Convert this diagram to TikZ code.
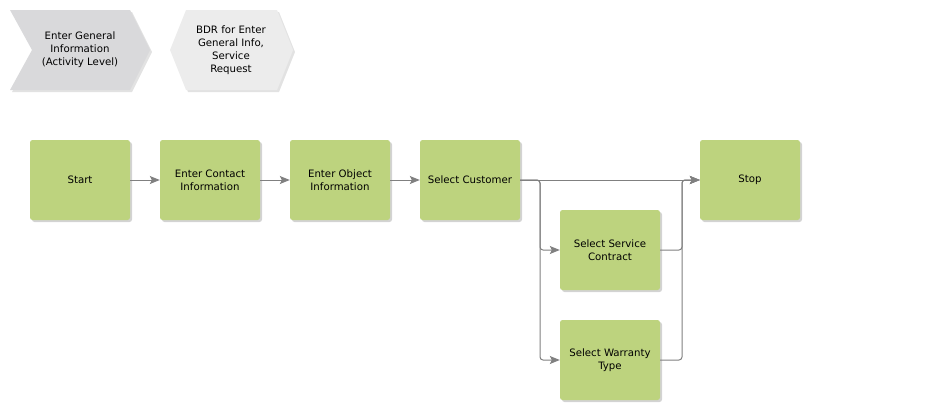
\documentclass[tikz,border=0pt]{standalone}
\usepackage{fontspec}
\setmainfont{DejaVu Sans}
\usetikzlibrary{arrows.meta,shadows}
\definecolor{actgreen}{RGB}{189,211,126}
\definecolor{evgray}{RGB}{217,217,219}
\definecolor{rulegray}{RGB}{236,236,236}
\definecolor{linegray}{RGB}{128,128,128}
\tikzset{
  act/.style={draw=none,fill=actgreen,rounded corners=2.5pt,minimum width=100pt,
    minimum height=80pt,align=center,inner sep=1pt,
    drop shadow={shadow xshift=2pt,shadow yshift=-2pt,opacity=0.35,fill=gray}},
  conn/.style={draw=linegray,line width=1pt,rounded corners=3pt,
    -{Stealth[length=10pt,width=8pt,inset=2pt]}},
  lbl/.style={align=center,font=\fontsize{10.2}{13}\selectfont},
}
\newcommand{\chevron}[4]{% x0,y0,x1,y1
  \fill[gray!45,opacity=0.5,xshift=2pt,yshift=-2pt] (#1,#2) -- ({#3-20},#2) -- (#3,{(#2+#4)/2})
    -- ({#3-20},#4) -- (#1,#4) -- ({#1+22},{(#2+#4)/2}) -- cycle;
  \fill[evgray] (#1,#2) -- ({#3-20},#2) -- (#3,{(#2+#4)/2})
    -- ({#3-20},#4) -- (#1,#4) -- ({#1+22},{(#2+#4)/2}) -- cycle;}
\newcommand{\hexrule}[4]{%
  \fill[gray!45,opacity=0.5,xshift=2pt,yshift=-2pt] (#1,{(#2+#4)/2}) -- ({#1+16},#2) -- ({#3-16},#2)
    -- (#3,{(#2+#4)/2}) -- ({#3-16},#4) -- ({#1+16},#4) -- cycle;
  \fill[rulegray] (#1,{(#2+#4)/2}) -- ({#1+16},#2) -- ({#3-16},#2)
    -- (#3,{(#2+#4)/2}) -- ({#3-16},#4) -- ({#1+16},#4) -- cycle;}

\begin{document}
\begin{tikzpicture}[x=1pt,y=-1pt,every node/.append style={lbl}]
  \useasboundingbox (0,0) rectangle (945,410);
  % header objects
  \chevron{10}{10}{150}{90}
  \node (genact) at (80,50) {Enter General\\Information\\(Activity Level)};
  \hexrule{170}{10}{293}{90}
  \node (bdr) at (231,50) {BDR for Enter\\General Info,\\Service\\Request};
  % activities
  \node[act] (start) at (80,180) {Start};
  \node[act] (contact) at (210,180) {Enter Contact\\Information};
  \node[act] (object) at (340,180) {Enter Object\\Information};
  \node[act] (cust) at (470,180) {Select Customer};
  \node[act] (svc) at (610,250) {Select Service\\Contract};
  \node[act] (warr) at (610,360) {Select Warranty\\Type};
  \node[act] (stop) at (750,180) {Stop};
  \coordinate (split) at (540,180);
  \coordinate (merge) at (682,180);
  % flow
  \draw[conn] (start) -- (contact);
  \draw[conn] (contact) -- (object);
  \draw[conn] (object) -- (cust);
  \draw[conn] (cust) -- (stop);
  \draw[conn] (cust.east) -- (split) |- (svc.west);
  \draw[conn] (cust.east) -- (split) |- (warr.west);
  \draw[conn] (svc.east) -| (merge) -- (stop.west);
  \draw[conn] (warr.east) -| (merge) -- (stop.west);
\end{tikzpicture}
\end{document}
